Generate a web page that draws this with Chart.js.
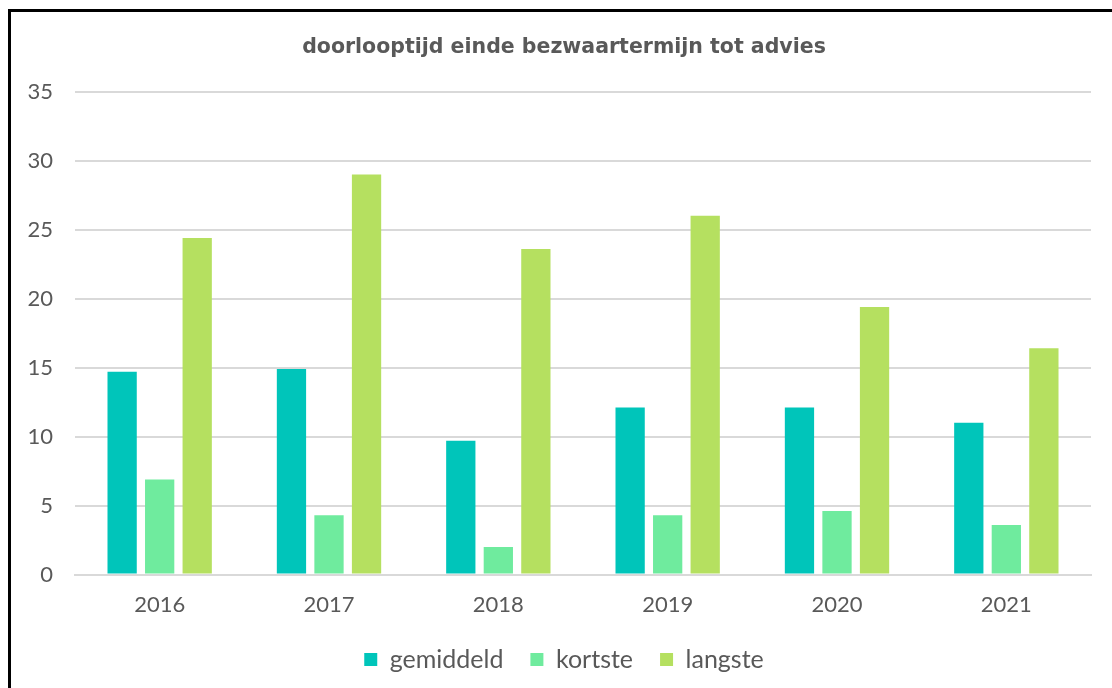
<!DOCTYPE html>
<html>
<head>
<meta charset="utf-8">
<script src="https://cdn.jsdelivr.net/npm/chart.js"></script>
<style>
    html, body { margin: 0; padding: 0; background: #fff; }
    body { width: 1112px; height: 688px; overflow: hidden; position: relative; }
    #frame {
        position: absolute; left: 8px; top: 9px; width: 1101px; height: 676px;
        border-left: 3px solid #000; border-top: 3px solid #000;
    }
    #wrap { position: absolute; left: 0; top: 0; width: 1101px; height: 676px; }
</style>
</head>
<body>
<div id="frame"><div id="wrap"><canvas id="chart"></canvas></div></div>
<script>
const years = ["2016", "2017", "2018", "2019", "2020", "2021"];
const gemiddeld = [14.7, 14.9, 9.7, 12.1, 12.1, 11.0];
const kortste = [6.9, 4.3, 2.0, 4.3, 4.6, 3.6];
const langste = [24.4, 29.0, 23.6, 26.0, 19.4, 16.4];
const yTicks = [0, 5, 10, 15, 20, 25, 30, 35];

const textColor = "#595959";
const fontFamily = "Lato, 'DejaVu Sans', sans-serif";

function series(label, data, color) {
    return {
        label,
        data,
        backgroundColor: color,
        borderWidth: 0,
        categoryPercentage: 0.665,
        barPercentage: 0.78
    };
}

new Chart(document.getElementById("chart"), {
    type: "bar",
    data: {
        labels: years,
        datasets: [
            series("gemiddeld", gemiddeld, "#00C5BA"),
            series("kortste", kortste, "#6FEB9E"),
            series("langste", langste, "#B5E060")
        ]
    },
    options: {
        responsive: true,
        maintainAspectRatio: false,
        animation: false,
        layout: { padding: { left: 5, right: 0, top: 8, bottom: 6 } },
        plugins: {
            title: {
                display: true,
                text: "doorlooptijd einde bezwaartermijn tot advies",
                color: textColor,
                font: { family: "'DejaVu Sans', sans-serif", size: 20.5, weight: "bold" },
                padding: { top: 15, bottom: 32 }
            },
            legend: {
                position: "bottom",
                labels: {
                    color: textColor,
                    font: { family: fontFamily, size: 25 },
                    boxWidth: 13,
                    boxHeight: 13,
                    padding: 27
                }
            },
            tooltip: { enabled: false }
        },
        scales: {
            x: {
                afterFit: (axis) => { axis.height -= 7; },
                grid: { display: false },
                border: { color: "#d9d9d9", width: 2 },
                ticks: { color: textColor, font: { family: fontFamily, size: 22 }, padding: 9 }
            },
            y: {
                min: 0,
                max: 35,
                afterBuildTicks: (axis) => { axis.ticks = yTicks.map((v) => ({ value: v })); },
                afterFit: (axis) => { axis.width = 59; },
                grid: { color: "#d9d9d9", lineWidth: 2, drawTicks: false },
                border: { display: false },
                ticks: { color: textColor, font: { family: fontFamily, size: 22 }, padding: 22 }
            },
            // empty right margin so title and legend centre like the original
            yPad: {
                position: "right",
                grid: { display: false },
                border: { display: false },
                ticks: { display: false },
                afterFit: (axis) => { axis.width = 21; }
            }
        }
    }
});
</script>
</body>
</html>
